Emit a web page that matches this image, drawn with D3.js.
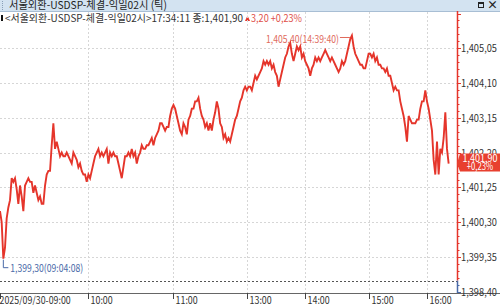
<!DOCTYPE html>
<html>
<head>
<meta charset="utf-8">
<script src="https://cdn.jsdelivr.net/npm/d3@7"></script>
<style>
  html, body { margin: 0; padding: 0; background: #fff; }
  svg { display: block; }
  text { font-family: "Noto Sans CJK KR", "Noto Sans", sans-serif; }
</style>
</head>
<body>
<div id="chart"></div>
<script>
const title = "서울외환-USDSP-체결-익일02시 (틱)";
const infoText = "<서울외환-USDSP-체결-익일02시>17:34:11 종:1,401,90";
const changeText = "3,20 +0,23%";

const hourLabels = ["2025/09/30-09:00", "10:00", "11:00", "13:00", "14:00", "15:00", "16:00"];
const hourIndex = [0, 53, 104, 148, 183, 221, 256];
const totalSlots = 274;

const yTicks = [1398.40, 1399.35, 1400.30, 1401.25, 1402.20, 1403.15, 1404.10, 1405.05];
const prevClose = 1398.70;
const lastLabel = ["1,401,90", "+0,23%"];
const highLabel = "1,405,40(14:39:40)";
const lowLabel = "1,399,30(09:04:08)";

// tick prices, 09:00 -> 16:20
const prices = [
  1400.6, 1400.3, 1399.3, 1399.6, 1400.4, 1400.7, 1400.9, 1401.5, 1401.4, 1401.5,
  1401.2, 1400.8, 1401.3, 1401.0, 1400.6, 1401.3, 1401.4, 1401.5, 1401.4, 1401.4,
  1401.1, 1401.3, 1401.1, 1400.9, 1401.0, 1400.8, 1400.8, 1401.3, 1401.6, 1401.7,
  1401.7, 1402.4, 1403.0, 1402.3, 1402.5, 1402.3, 1402.1, 1402.2, 1402.1, 1402.1,
  1402.2, 1402.1, 1402.0, 1401.9, 1402.2, 1402.1, 1402.0, 1401.8, 1401.9, 1401.7,
  1401.6, 1401.6, 1401.4, 1401.6, 1401.5, 1401.7, 1401.9, 1402.1, 1402.2, 1402.3,
  1402.1, 1402.2, 1402.1, 1402.2, 1402.3, 1401.9, 1402.2, 1402.1, 1402.2, 1402.1,
  1402.1, 1401.9,
  1401.7, 1401.5, 1401.8, 1402.1, 1402.1, 1402.2, 1402.1, 1402.3, 1402.1, 1402.2,
  1401.9, 1402.1, 1402.2, 1402.4, 1402.3, 1402.3, 1402.4, 1402.4, 1402.5, 1402.6,
  1402.4, 1402.6, 1402.7, 1402.8, 1403.0, 1403.0, 1402.9, 1402.8, 1402.9, 1402.9,
  1403.2, 1403.4, 1403.5, 1403.4, 1403.2, 1403.0, 1402.8, 1402.7, 1403.0, 1402.9,
  1402.7, 1403.1, 1403.2, 1403.4, 1403.4, 1403.6, 1403.6, 1403.7, 1403.4, 1403.2,
  1403.1, 1402.9, 1403.0, 1402.8, 1403.0, 1402.8, 1403.1, 1403.3, 1403.6, 1403.4,
  1403.0, 1402.9, 1402.6, 1402.7, 1402.5, 1402.6,
  1402.5, 1402.7, 1402.9, 1403.1, 1403.2, 1403.4, 1403.6, 1403.7, 1403.9, 1404.0,
  1403.9, 1404.0, 1404.0, 1403.9, 1404.1, 1404.3, 1404.2, 1404.3, 1404.4, 1404.5,
  1404.7, 1404.6, 1404.7, 1404.6, 1404.7, 1404.5, 1404.6, 1404.4, 1404.3, 1404.0,
  1404.2, 1404.4, 1404.6, 1404.8, 1404.9, 1405.1, 1405.2, 1404.9, 1404.7, 1404.9,
  1405.1, 1405.0, 1405.1, 1404.8, 1404.9, 1404.7, 1404.6, 1404.5, 1404.3, 1404.5,
  1404.6, 1404.8, 1404.7, 1404.8, 1404.7, 1404.8, 1404.9, 1405.0, 1404.9, 1404.8,
  1404.7, 1404.8, 1404.7, 1404.6, 1404.5, 1404.4,
  1404.5, 1404.7, 1404.6, 1404.7, 1404.9, 1405.1, 1405.3, 1405.4, 1405.1, 1404.9,
  1404.8, 1404.7, 1404.6, 1404.6, 1404.5, 1404.5, 1404.7, 1404.9, 1404.9, 1404.8,
  1404.9, 1404.7, 1404.8, 1404.6, 1404.6, 1404.5, 1404.5, 1404.4, 1404.5, 1404.3,
  1404.3, 1404.1, 1403.9, 1404.0, 1403.9, 1403.9, 1403.6, 1403.4, 1403.2, 1402.9,
  1402.5, 1403.2, 1403.1, 1403.0, 1403.0, 1403.0, 1403.1, 1403.1, 1403.4, 1403.6,
  1403.6, 1403.9, 1403.6, 1403.4, 1403.1, 1402.8, 1402.0, 1401.6, 1402.5, 1401.6,
  1402.3, 1402.2, 1402.6, 1403.3, 1402.3, 1401.9
];

const width = 500;
const height = 305;
const plotRight = 457;
const plotTop = 11;
const axisY = 293;

const red = "#e5352b";
const blue = "#4a6aa8";

const svg = d3.select("#chart")
  .append("svg")
  .attr("width", width)
  .attr("height", height);

const x = d3.scaleLinear().domain([0, totalSlots]).range([0, plotRight]);
const y = d3.scaleLinear().domain([1398.40, 1405.05]).range([291.6, 48.3]);

const fmt = d => d3.format(",.2f")(d).replace(".", ",");

// label helper, squeezes text to the narrow HTS font width
function label(g, str, px, py, size, charW, color) {
  const t = g.append("text")
    .attr("x", px)
    .attr("y", py)
    .attr("font-size", size)
    .attr("fill", color)
    .text(str);
  if (charW) t.attr("textLength", str.length * charW).attr("lengthAdjust", "spacingAndGlyphs");
  return t;
}

// title bar
svg.append("rect")
  .attr("x", 0).attr("y", 0)
  .attr("width", width).attr("height", plotTop)
  .attr("fill", "#d3e3f1");
svg.append("line")
  .attr("x1", 0).attr("x2", width)
  .attr("y1", plotTop + 0.5).attr("y2", plotTop + 0.5)
  .attr("stroke", "#a8bed4");
svg.append("line")
  .attr("x1", 2.5).attr("x2", 2.5).attr("y1", 1).attr("y2", 10)
  .attr("stroke", "#8aa0b8").attr("stroke-dasharray", "1,1");
label(svg, title, 9, 9, 11, null, "#222").attr("textLength", 158).attr("lengthAdjust", "spacingAndGlyphs");

svg.append("rect")
  .attr("x", 478.5).attr("y", 2.5).attr("width", 5).attr("height", 5)
  .attr("fill", "none").attr("stroke", "#222");
svg.append("line")
  .attr("x1", 478).attr("x2", 484).attr("y1", 3).attr("y2", 3)
  .attr("stroke", "#222").attr("stroke-width", 2);
label(svg, "×", 487, 9, 11, null, "#222").attr("font-weight", "bold");

// info row
svg.append("rect")
  .attr("x", 1).attr("y", 15).attr("width", 2).attr("height", 6)
  .attr("fill", "#111");
label(svg, infoText, 5, 21.5, 10.5, null, "#333").attr("textLength", 238).attr("lengthAdjust", "spacingAndGlyphs");
svg.append("path")
  .attr("d", "M245,21 L247.5,15.5 L250,21 Z")
  .attr("fill", red);
label(svg, changeText, 251, 21.5, 10.5, null, "#e0504a").attr("textLength", 51).attr("lengthAdjust", "spacingAndGlyphs");

// grid
svg.append("g")
  .selectAll("line")
  .data(yTicks.slice(1))
  .enter()
  .append("line")
  .attr("x1", 0).attr("x2", plotRight)
  .attr("y1", d => Math.round(y(d)) + 0.5)
  .attr("y2", d => Math.round(y(d)) + 0.5)
  .attr("stroke", "#d6d6d6")
  .attr("stroke-dasharray", "2,2");

svg.append("g")
  .selectAll("line")
  .data(hourIndex.slice(1))
  .enter()
  .append("line")
  .attr("x1", d => Math.round(x(d)) + 0.5)
  .attr("x2", d => Math.round(x(d)) + 0.5)
  .attr("y1", plotTop + 1).attr("y2", axisY)
  .attr("stroke", "#d6d6d6")
  .attr("stroke-dasharray", "2,2");

// previous close
svg.append("line")
  .attr("x1", 0).attr("x2", plotRight)
  .attr("y1", Math.round(y(prevClose)) + 0.5)
  .attr("y2", Math.round(y(prevClose)) + 0.5)
  .attr("stroke", "#555")
  .attr("stroke-dasharray", "2,2");

// price line
const line = d3.line()
  .x((d, i) => x(i))
  .y(d => y(d));

svg.append("path")
  .datum(prices)
  .attr("d", line)
  .attr("fill", "none")
  .attr("stroke", red)
  .attr("stroke-width", 1.9)
  .attr("stroke-linejoin", "miter");

// high / low marks
const hiIdx = d3.maxIndex(prices);
const loIdx = d3.minIndex(prices);
const hx = x(hiIdx), hy = y(prices[hiIdx]);
svg.append("line")
  .attr("x1", hx - 12).attr("x2", hx - 2)
  .attr("y1", hy + 2).attr("y2", hy + 2)
  .attr("stroke", "#e06a5c");
label(svg, highLabel, hx - 13, hy + 8, 10.5, 4.05, "#e06a5c").attr("text-anchor", "end");

const lx = x(loIdx), ly = y(prices[loIdx]);
svg.append("path")
  .attr("d", `M${lx},${ly + 1} L${lx},${ly + 9} L${lx + 5},${ly + 9}`)
  .attr("fill", "none")
  .attr("stroke", blue);
label(svg, lowLabel, lx + 7, ly + 13, 10.5, 4.05, blue);

// bottom axis
svg.append("line")
  .attr("x1", 0).attr("x2", width)
  .attr("y1", axisY + 0.5).attr("y2", axisY + 0.5)
  .attr("stroke", "#666");

const xt = svg.append("g")
  .selectAll("g")
  .data(hourIndex)
  .enter()
  .append("g")
  .attr("transform", d => `translate(${Math.round(x(d)) + 0.5},0)`);
xt.append("line")
  .attr("y1", axisY).attr("y2", axisY + 6)
  .attr("stroke", "#444");
xt.each(function (d, i) {
  label(d3.select(this), hourLabels[i], i === 0 ? -1 : 2, 303.5, 10.5, 4.45, "#333");
});

// right axis
const minor = d3.range(0, 44).map(k => 1398.40 + k * 0.19);
svg.append("g")
  .selectAll("line")
  .data(minor)
  .enter()
  .append("line")
  .attr("x1", plotRight).attr("x2", (d, i) => i % 5 === 0 ? plotRight + 4 : plotRight + 2.5)
  .attr("y1", d => Math.round(y(d)) + 0.5)
  .attr("y2", d => Math.round(y(d)) + 0.5)
  .attr("stroke", d => d < prevClose ? blue : red)
  .style("display", d => y(d) < plotTop ? "none" : null);

svg.append("line")
  .attr("x1", plotRight + 0.5).attr("x2", plotRight + 0.5)
  .attr("y1", plotTop).attr("y2", y(prevClose))
  .attr("stroke", red).attr("stroke-width", 1.5);
svg.append("line")
  .attr("x1", plotRight + 0.5).attr("x2", plotRight + 0.5)
  .attr("y1", y(prevClose)).attr("y2", axisY)
  .attr("stroke", blue).attr("stroke-width", 1.5);

svg.append("g")
  .selectAll("text")
  .data(yTicks)
  .enter()
  .append("text")
  .attr("x", 461)
  .attr("y", d => y(d) + 4)
  .attr("font-size", 10.5)
  .attr("fill", "#333")
  .attr("textLength", 36)
  .attr("lengthAdjust", "spacingAndGlyphs")
  .text(fmt);

// last price tag
const lastY = y(prices[prices.length - 1]);
svg.append("path")
  .attr("d", `M${plotRight},${lastY} L${plotRight + 3},${lastY - 10} L${width},${lastY - 10} L${width},${lastY + 8} L${plotRight + 3},${lastY + 8} Z`)
  .attr("fill", "#e8402f");
svg.append("g")
  .selectAll("text")
  .data(lastLabel)
  .enter()
  .append("text")
  .attr("x", 480)
  .attr("y", (d, i) => lastY - 2 + i * 8)
  .attr("text-anchor", "middle")
  .attr("font-size", 10)
  .attr("fill", "#fff")
  .attr("textLength", d => d.length * 4.4)
  .attr("lengthAdjust", "spacingAndGlyphs")
  .text(d => d);
</script>
</body>
</html>
